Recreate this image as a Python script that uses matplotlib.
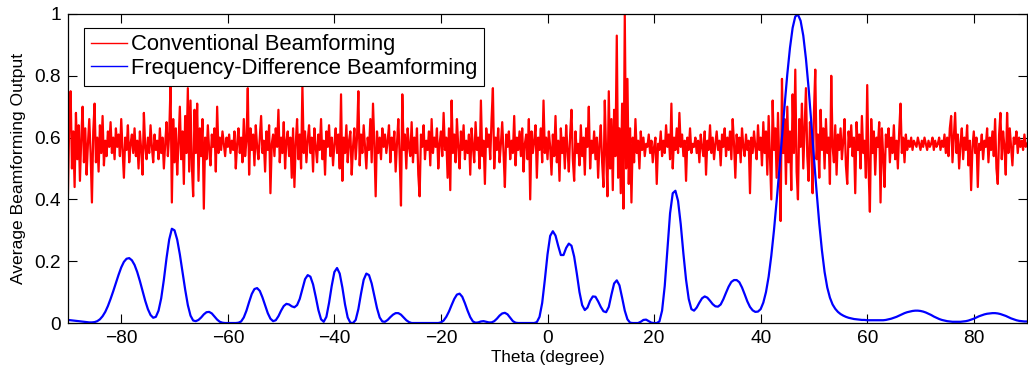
import numpy as np
import matplotlib
matplotlib.use("Agg")
import matplotlib.pyplot as plt

plt.rcParams['font.family'] = ['Liberation Sans', 'DejaVu Sans']

# Theta range (degrees)
theta_min, theta_max = -90.0, 90.0

# Conventional beamforming output, sampled every 0.25 degree from -90 to 90
conventional = [
    0.42,0.66,0.75,0.50,0.62,0.44,0.68,0.53,0.64,0.46,0.60,0.70,0.52,0.63,0.48,0.58,0.66,0.55,0.39,0.62,
    0.71,0.52,0.60,0.49,0.64,0.55,0.67,0.51,0.59,0.54,0.62,0.57,0.65,0.55,0.60,0.53,0.63,0.57,0.61,0.54,
    0.66,0.56,0.47,0.60,0.56,0.64,0.52,0.58,0.61,0.55,0.63,0.54,0.59,0.50,0.62,0.56,0.48,0.68,0.57,0.53,
    0.60,0.55,0.64,0.57,0.52,0.61,0.56,0.59,0.53,0.63,0.55,0.60,0.50,0.58,0.65,0.54,0.61,0.77,0.39,0.66,
    0.52,0.63,0.48,0.58,0.70,0.53,0.62,0.45,0.67,0.55,0.76,0.49,0.72,0.51,0.41,0.69,0.55,0.71,0.46,0.63,
    0.54,0.66,0.37,0.60,0.53,0.64,0.56,0.51,0.61,0.57,0.63,0.49,0.70,0.55,0.60,0.56,0.62,0.58,0.54,0.60,
    0.57,0.61,0.55,0.59,0.56,0.62,0.50,0.58,0.63,0.55,0.60,0.52,0.66,0.54,0.59,0.76,0.48,0.63,0.56,0.61,
    0.51,0.64,0.57,0.53,0.60,0.67,0.55,0.59,0.49,0.62,0.56,0.64,0.42,0.58,0.61,0.54,0.63,0.57,0.69,0.52,
    0.60,0.55,0.65,0.50,0.59,0.62,0.54,0.60,0.47,0.63,0.44,0.58,0.66,0.53,0.61,0.50,0.77,0.55,0.62,0.52,
    0.59,0.64,0.55,0.60,0.49,0.63,0.57,0.52,0.61,0.56,0.66,0.53,0.59,0.48,0.62,0.57,0.64,0.54,0.60,0.51,
    0.58,0.63,0.55,0.61,0.50,0.74,0.46,0.60,0.55,0.64,0.52,0.59,0.62,0.48,0.57,0.63,0.53,0.60,0.75,0.51,
    0.61,0.55,0.64,0.57,0.50,0.60,0.56,0.66,0.52,0.71,0.58,0.41,0.62,0.55,0.60,0.53,0.63,0.57,0.61,0.55,
    0.59,0.64,0.52,0.60,0.56,0.62,0.49,0.58,0.66,0.54,0.38,0.74,0.56,0.61,0.50,0.63,0.57,0.54,0.65,0.52,
    0.60,0.55,0.63,0.48,0.41,0.61,0.57,0.64,0.53,0.59,0.56,0.62,0.51,0.66,0.55,0.60,0.57,0.63,0.50,0.58,
    0.62,0.54,0.68,0.56,0.60,0.47,0.63,0.43,0.72,0.55,0.61,0.52,0.66,0.57,0.50,0.62,0.56,0.64,0.53,0.59,
    0.55,0.61,0.48,0.63,0.57,0.52,0.65,0.56,0.60,0.50,0.72,0.54,0.59,0.45,0.63,0.57,0.61,0.53,0.66,0.76,
    0.50,0.60,0.56,0.63,0.52,0.58,0.65,0.55,0.44,0.61,0.57,0.62,0.53,0.59,0.55,0.67,0.51,0.60,0.56,0.62,
    0.54,0.63,0.49,0.58,0.61,0.53,0.66,0.40,0.62,0.55,0.59,0.64,0.47,0.60,0.56,0.63,0.52,0.72,0.55,0.60,
    0.53,0.62,0.57,0.48,0.61,0.54,0.67,0.52,0.59,0.46,0.63,0.55,0.60,0.50,0.64,0.56,0.49,0.61,0.69,0.53,
    0.46,0.62,0.55,0.58,0.51,0.64,0.54,0.60,0.48,0.63,0.57,0.70,0.50,0.59,0.55,0.62,0.53,0.60,0.47,0.58,
    0.64,0.52,0.44,0.72,0.55,0.41,0.75,0.50,0.66,0.43,0.69,0.54,0.93,0.47,0.63,0.42,0.71,0.37,1.00,0.50,
    0.79,0.45,0.63,0.39,0.60,0.52,0.66,0.55,0.59,0.50,0.62,0.56,0.60,0.54,0.58,0.57,0.61,0.55,0.59,0.52,
    0.57,0.60,0.45,0.58,0.56,0.62,0.54,0.59,0.55,0.64,0.57,0.61,0.53,0.71,0.50,0.60,0.56,0.63,0.55,0.68,
    0.57,0.61,0.54,0.59,0.46,0.60,0.56,0.63,0.55,0.58,0.57,0.60,0.55,0.59,0.52,0.61,0.57,0.54,0.62,0.48,
    0.59,0.56,0.64,0.55,0.60,0.53,0.58,0.62,0.56,0.59,0.51,0.61,0.57,0.63,0.54,0.60,0.56,0.62,0.53,0.66,
    0.58,0.47,0.61,0.55,0.60,0.52,0.63,0.57,0.54,0.61,0.56,0.59,0.42,0.60,0.55,0.62,0.57,0.53,0.64,0.56,
    0.60,0.51,0.65,0.55,0.62,0.48,0.67,0.54,0.40,0.72,0.56,0.63,0.47,0.68,0.52,0.33,0.79,0.55,0.66,0.45,
    0.70,0.52,0.62,0.43,0.74,0.55,0.82,0.49,0.40,0.66,0.57,0.71,0.50,0.63,0.76,0.54,0.46,0.65,0.58,0.42,
    0.68,0.82,0.53,0.61,0.47,0.69,0.56,0.63,0.50,0.66,0.55,0.60,0.45,0.80,0.57,0.52,0.64,0.48,0.61,0.56,
    0.63,0.53,0.59,0.66,0.51,0.45,0.62,0.57,0.64,0.54,0.60,0.42,0.65,0.56,0.61,0.50,0.67,0.55,0.59,0.47,
    0.77,0.50,0.36,0.66,0.55,0.62,0.48,0.60,0.57,0.65,0.39,0.63,0.54,0.44,0.61,0.57,0.63,0.52,0.60,0.55,
    0.64,0.53,0.59,0.50,0.62,0.71,0.55,0.60,0.52,0.61,0.56,0.59,0.57,0.60,0.56,0.59,0.58,0.57,0.60,0.58,
    0.56,0.59,0.57,0.60,0.58,0.56,0.59,0.57,0.58,0.60,0.56,0.59,0.57,0.58,0.60,0.56,0.59,0.57,0.61,0.55,
    0.60,0.54,0.63,0.67,0.52,0.60,0.68,0.55,0.61,0.50,0.58,0.63,0.53,0.60,0.56,0.64,0.51,0.59,0.43,0.57,
    0.62,0.55,0.60,0.44,0.58,0.56,0.61,0.53,0.59,0.57,0.63,0.52,0.60,0.56,0.62,0.54,0.66,0.50,0.45,0.61,
    0.68,0.53,0.62,0.57,0.48,0.68,0.55,0.63,0.57,0.51,0.60,0.58,0.62,0.55,0.60,0.57,0.59,0.56,0.61,0.57,
    0.58,
]

# Frequency-difference beamforming output, sampled every 0.5 degree from -90 to 90
freq_diff = [
    0.010,0.009,0.008,0.007,0.006,0.005,0.004,0.003,0.002,0.002,
    0.003,0.006,0.012,0.022,0.036,0.055,0.078,0.103,0.130,0.156,
    0.180,0.198,0.208,0.210,0.203,0.188,0.165,0.136,0.104,0.072,
    0.045,0.026,0.017,0.020,0.040,0.080,0.140,0.210,0.270,0.305,
    0.300,0.270,0.222,0.165,0.108,0.058,0.024,0.008,0.006,0.010,
    0.018,0.028,0.035,0.036,0.031,0.021,0.011,0.004,0.001,0.000,
    0.000,0.000,0.000,0.000,0.001,0.005,0.018,0.040,0.068,0.094,
    0.110,0.113,0.104,0.083,0.057,0.032,0.014,0.006,0.009,0.022,
    0.040,0.055,0.062,0.060,0.054,0.051,0.058,0.078,0.110,0.142,
    0.155,0.150,0.125,0.085,0.042,0.012,0.004,0.020,0.065,0.120,
    0.165,0.178,0.160,0.115,0.060,0.018,0.001,0.000,0.010,0.045,
    0.095,0.140,0.160,0.155,0.128,0.088,0.048,0.018,0.005,0.004,
    0.010,0.019,0.027,0.032,0.032,0.027,0.018,0.009,0.003,0.000,
    0.000,0.000,0.000,0.000,0.000,0.000,0.000,0.000,0.000,0.000,
    0.002,0.008,0.020,0.037,0.058,0.078,0.092,0.095,0.085,0.064,
    0.040,0.019,0.005,0.001,0.002,0.005,0.006,0.004,0.002,0.002,
    0.006,0.014,0.024,0.031,0.033,0.028,0.017,0.006,0.001,0.000,
    0.000,0.000,0.000,0.000,0.000,0.000,0.003,0.020,0.065,0.140,
    0.222,0.282,0.297,0.283,0.250,0.220,0.220,0.243,0.257,0.250,
    0.215,0.160,0.100,0.058,0.042,0.050,0.072,0.086,0.085,0.070,
    0.052,0.038,0.035,0.052,0.092,0.128,0.138,0.122,0.082,0.040,
    0.012,0.001,0.000,0.000,0.000,0.004,0.010,0.011,0.006,0.001,
    0.000,0.000,0.005,0.040,0.120,0.240,0.355,0.420,0.428,0.395,
    0.320,0.225,0.140,0.078,0.045,0.040,0.050,0.066,0.080,0.086,
    0.082,0.072,0.061,0.054,0.053,0.060,0.077,0.098,0.118,0.133,
    0.139,0.139,0.132,0.115,0.093,0.070,0.052,0.041,0.036,0.037,
    0.045,0.066,0.100,0.150,0.218,0.300,0.395,0.495,0.600,0.705,
    0.805,0.890,0.955,0.992,0.998,0.978,0.930,0.855,0.760,0.650,
    0.535,0.425,0.322,0.235,0.165,0.115,0.082,0.060,0.046,0.036,
    0.029,0.024,0.020,0.017,0.015,0.013,0.012,0.011,0.010,0.010,
    0.009,0.009,0.009,0.009,0.009,0.009,0.009,0.010,0.012,0.014,
    0.017,0.020,0.024,0.028,0.032,0.035,0.037,0.039,0.040,0.040,
    0.039,0.037,0.034,0.030,0.026,0.021,0.017,0.013,0.010,0.008,
    0.006,0.005,0.004,0.004,0.004,0.004,0.005,0.006,0.008,0.011,
    0.014,0.018,0.022,0.025,0.028,0.030,0.031,0.032,0.032,0.031,
    0.029,0.026,0.023,0.019,0.015,0.012,0.009,0.007,0.006,0.005,
    0.005,
]

x_ticks = [-80, -60, -40, -20, 0, 20, 40, 60, 80]
y_ticks = [0, 0.2, 0.4, 0.6, 0.8, 1]
y_tick_labels = ["0", "0.2", "0.4", "0.6", "0.8", "1"]
labels = ["Conventional Beamforming", "Frequency-Difference Beamforming"]
x_label = "Theta (degree)"
y_label = "Average Beamforming Output"

theta_conv = np.linspace(theta_min, theta_max, len(conventional))
theta_fd = np.linspace(theta_min, theta_max, len(freq_diff))

fig = plt.figure(figsize=(10.28, 3.73), dpi=100)
ax = fig.add_axes([0.0661, 0.134, 0.933, 0.8285])

ax.plot(theta_conv, conventional, color='#ff0000', lw=1.6, label=labels[0])
ax.plot(theta_fd, freq_diff, color='#0000ff', lw=1.6, label=labels[1])

ax.set_xlim(theta_min, theta_max)
ax.set_ylim(0, 1)
ax.set_xticks(x_ticks)
ax.set_yticks(y_ticks)
ax.set_yticklabels(y_tick_labels)
ax.tick_params(direction='in', length=6.8, width=0.8, top=True, right=True,
               labelsize=13.8, pad=5)
for s in ax.spines.values():
    s.set_linewidth(0.9)
    s.set_color('black')

ax.set_xlabel(x_label, fontsize=12.3, labelpad=2)
ax.set_ylabel(y_label, fontsize=12.6, labelpad=6)

leg = ax.legend(loc='upper left', bbox_to_anchor=(0.0167, 0.955), borderaxespad=0,
                fontsize=15.8, fancybox=False, framealpha=1, edgecolor='black',
                handlelength=1.65, handletextpad=0.2, labelspacing=0.12,
                borderpad=0.3)
leg.get_frame().set_linewidth(0.8)
for line in leg.get_lines():
    line.set_linewidth(1.0)

fig.savefig('out.png', dpi=100)
